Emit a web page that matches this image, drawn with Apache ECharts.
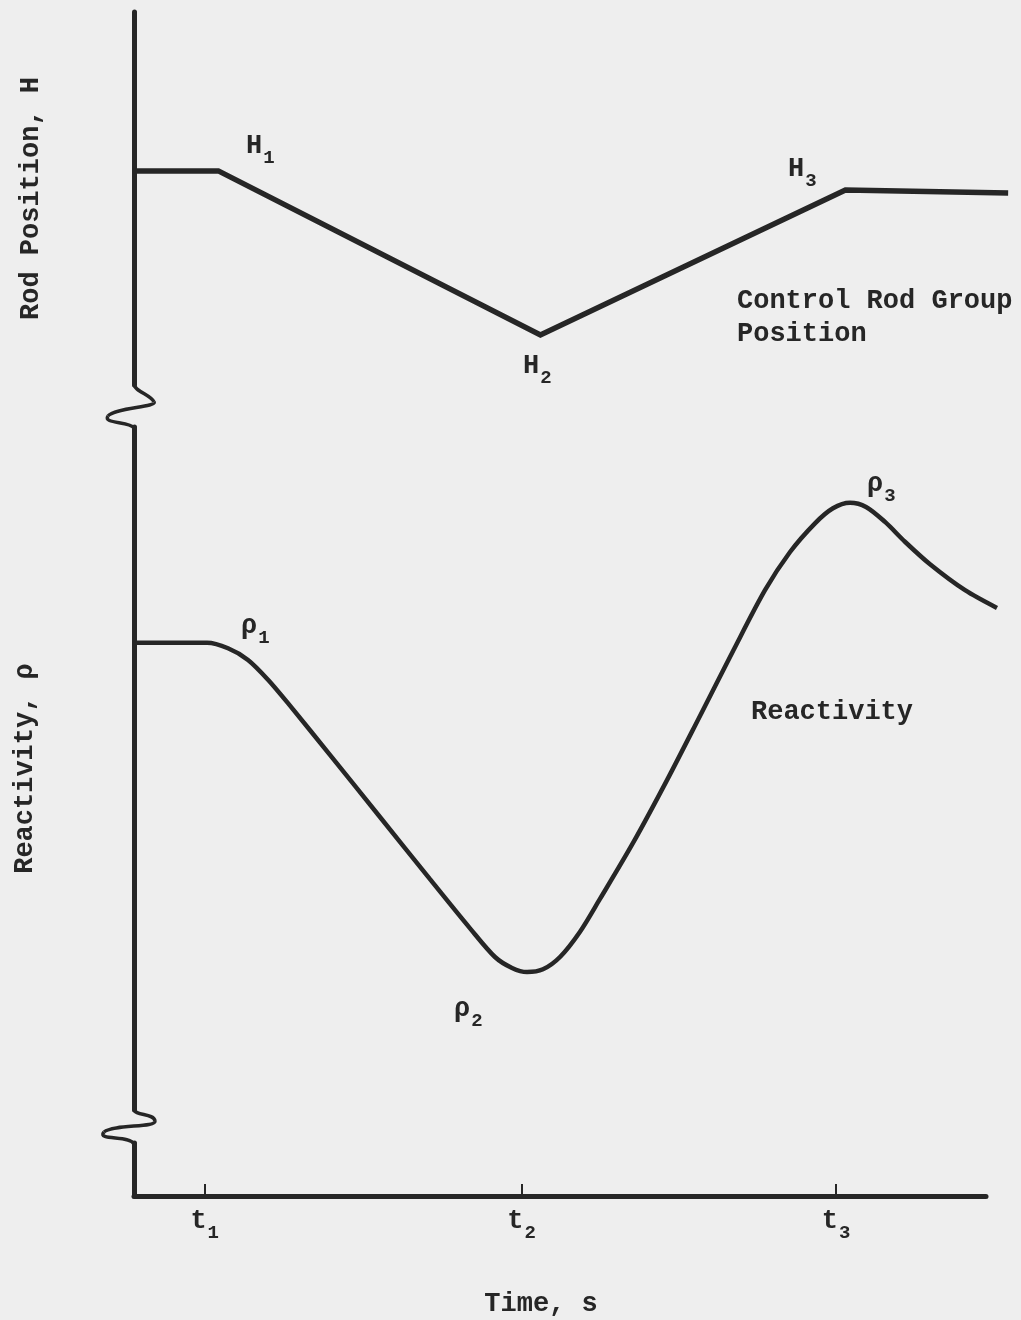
<!DOCTYPE html>
<html><head><meta charset="utf-8">
<style>html,body{margin:0;padding:0;background:#eeeeee}#c{width:1021px;height:1320px}</style>
<script src="https://cdn.jsdelivr.net/npm/echarts@6/dist/echarts.min.js"></script>
</head><body><div id="c"></div>
<script>
// ---- data (time in arbitrary units, values in arbitrary units 0..100) ----
const rodTime = [0, 9.9, 47.7, 83.5, 102.6];
const rodPos  = [57.4, 57.4, 13.4, 52.3, 51.5];
const reactTime = [0, 8.57, 11.03, 13.38, 15.73, 18.31, 23.0, 28.87, 34.74, 39.44, 42.37, 44.37, 46.13, 48.0, 50.0, 52.35, 54.69, 58.57, 62.56, 66.43, 70.31, 74.06, 77.0, 79.93, 82.04, 84.04, 85.92, 88.15, 90.49, 93.43, 97.54, 101.29];
const reactVal  = [68.4, 68.4, 67.6, 65.9, 63.0, 59.2, 52.0, 42.9, 33.8, 26.6, 22.4, 20.8, 20.2, 20.6, 22.4, 26.1, 30.9, 39.1, 48.3, 57.7, 67.2, 76.1, 81.7, 85.9, 88.1, 88.9, 88.3, 86.1, 83.2, 79.9, 76.1, 73.5];
const tickTimes  = [8.3, 45.5, 82.4];
const tickLabels = ['t1', 't2', 't3'];

const FONT = "'Liberation Mono', 'Courier New', monospace";
const INK = '#262626';
const FS = 27;
const AXW = 5;
const SCALE = 8.52;          // px per time unit (shared by all grids)
const AXIS_MAX = 100;        // drawn time axis end
const CURVE_MAX = 104;       // upper panels extend a little further

const chart = echarts.init(document.getElementById('c'));

const richSub = {
  m: {fontFamily: FONT, fontSize: FS, fontWeight: 'bold', color: INK, verticalAlign: 'bottom', padding: [0, 0, 8, 0]},
  s: {fontFamily: FONT, fontSize: 19, fontWeight: 'bold', color: INK, verticalAlign: 'bottom', padding: [0, 0, 0, 1]}
};
function subText(main, sub) { return '{m|' + main + '}{s|' + sub + '}'; }

function hiddenX(i) {
  return {type: 'value', gridIndex: i, min: 0, max: CURVE_MAX, show: false};
}
function yAx(i, name, gap) {
  return {
    type: 'value', gridIndex: i, min: 0, max: 100,
    axisLine: {show: true, onZero: false, lineStyle: {color: INK, width: AXW}},
    axisTick: {show: false}, axisLabel: {show: false}, splitLine: {show: false},
    name: name, nameLocation: 'middle', nameGap: gap, nameRotate: 90,
    nameTextStyle: {fontFamily: FONT, fontSize: FS, fontWeight: 'bold', color: INK}
  };
}

function bez(x1, y1, cpx1, cpy1, cpx2, cpy2, x2, y2) {
  return {type: 'bezierCurve', silent: true,
    shape: {x1, y1, cpx1, cpy1, cpx2, cpy2, x2, y2},
    style: {stroke: INK, lineWidth: 3.5, fill: null}};
}
function txt(x, y, content, align) {
  return {type: 'text', x, y, silent: true,
    style: {text: content, fontFamily: FONT, fontSize: FS, fontWeight: 'bold', fill: INK,
      align: align || 'left', verticalAlign: 'middle', rich: richSub, lineHeight: 32}};
}

const L = 134;
const option = {
  backgroundColor: '#eeeeee',
  animation: false,
  grid: [
    {left: L, width: SCALE * CURVE_MAX, top: 12, height: 373},
    {left: L, width: SCALE * CURVE_MAX, top: 427, height: 683},
    {left: L, width: SCALE * AXIS_MAX, top: 1143, height: 53}
  ],
  xAxis: [
    hiddenX(0), hiddenX(1),
    {
      type: 'value', gridIndex: 2, min: 0, max: AXIS_MAX,
      axisLine: {show: true, onZero: false, lineStyle: {color: INK, width: AXW}},
      axisTick: {show: true, inside: true, length: 12, customValues: tickTimes, lineStyle: {color: INK, width: 2}},
      axisLabel: {
        show: true, customValues: tickTimes, margin: 12,
        formatter: function (v) {
          let best = 0;
          tickTimes.forEach((t, i) => { if (Math.abs(t - v) < Math.abs(tickTimes[best] - v)) best = i; });
          const s = tickLabels[best];
          return subText(s.charAt(0), s.slice(1));
        },
        rich: richSub
      },
      splitLine: {show: false},
      name: 'Time, s', nameLocation: 'middle', nameGap: 95,
      nameTextStyle: {fontFamily: FONT, fontSize: FS, fontWeight: 'bold', color: INK, padding: [0, 38, 0, 0]}
    }
  ],
  yAxis: [
    yAx(0, 'Rod Position, H', 89),
    yAx(1, 'Reactivity, \u03C1', 95),
    {type: 'value', gridIndex: 2, min: 0, max: 100,
     axisLine: {show: true, onZero: false, lineStyle: {color: INK, width: AXW}},
     axisTick: {show: false}, axisLabel: {show: false}, splitLine: {show: false}}
  ],
  series: [
    {
      type: 'line', xAxisIndex: 0, yAxisIndex: 0, symbol: 'none',
      data: rodTime.map((t, i) => [t, rodPos[i]]),
      lineStyle: {color: INK, width: 5.5, join: 'miter'}
    },
    {
      type: 'line', xAxisIndex: 1, yAxisIndex: 1, symbol: 'none',
      smooth: 0.3,
      data: reactTime.map((t, i) => [t, reactVal[i]]),
      lineStyle: {color: INK, width: 4.5}
    }
  ],
  graphic: [
    // axis break symbols
    bez(134, 384, 134, 391, 151, 395, 154, 402),
    bez(154, 402, 157, 407, 114, 408, 108, 416),
    bez(108, 416, 102, 424, 130, 421, 134, 428),
    bez(134, 1109, 134, 1116, 154, 1113, 155, 1121),
    bez(155, 1121, 156, 1128, 114, 1124, 104, 1132),
    bez(104, 1132, 96, 1141, 130, 1135, 134, 1144),
    // annotations
    txt(246, 152, subText('H', '1')),
    txt(523, 372, subText('H', '2')),
    txt(788, 175, subText('H', '3')),
    txt(241, 632, subText('\u03C1', '1')),
    txt(454, 1015, subText('\u03C1', '2')),
    txt(867, 490, subText('\u03C1', '3')),
    txt(737, 301, 'Control Rod Group'),
    txt(737, 334, 'Position'),
    txt(751, 712, 'Reactivity')
  ]
};
chart.setOption(option);
</script></body></html>
